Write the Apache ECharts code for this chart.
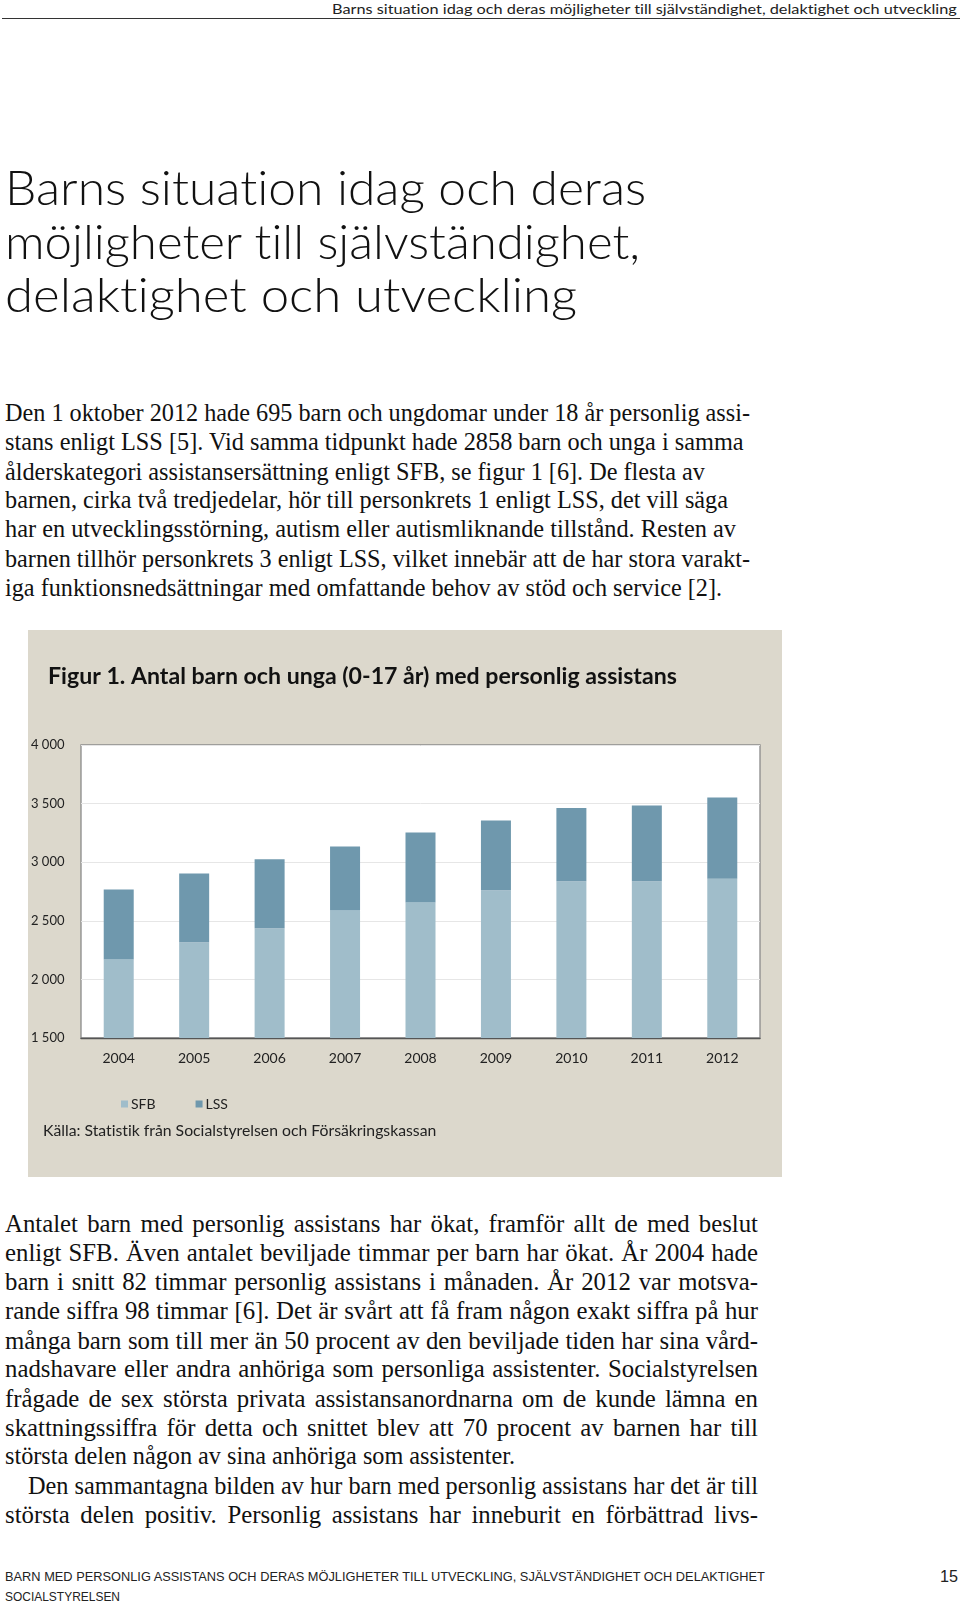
<!DOCTYPE html>
<html><head><meta charset="utf-8">
<script src="https://cdn.jsdelivr.net/npm/echarts@6/dist/echarts.min.js"></script>
<style>
html,body{margin:0;padding:0;background:#fff}
body{width:960px;height:1604px;position:relative;overflow:hidden;font-variant-ligatures:none;font-feature-settings:"liga" 0,"clig" 0}
.t{position:absolute;white-space:nowrap;line-height:1;transform-origin:0 50%;color:#111}
.j{position:absolute;white-space:nowrap;line-height:1;color:#111;text-align:justify;text-align-last:justify}
#hr{position:absolute;left:2px;top:18px;width:958px;height:0;border-top:1.6px solid #333}
</style></head><body>
<div id="hr"></div>
<div id="chart" style="position:absolute;left:28px;top:630px;width:754px;height:547px"></div>
<script>
// ---- data ----
const years = ['2004','2005','2006','2007','2008','2009','2010','2011','2012'];
const sfbValues = [2170, 2318, 2437, 2588, 2656, 2761, 2838, 2838, 2858];
const lssValues = [597, 585, 589, 546, 597, 594, 625, 645, 695];
const seriesNames = ['SFB', 'LSS'];
const yMin = 1500, yMax = 4000, yStep = 500;

const headerText = 'Barns situation idag och deras möjligheter till självständighet, delaktighet och utveckling';
const titleLines = ['Barns situation idag och deras', 'möjligheter till självständighet,', 'delaktighet och utveckling'];
const para1 = [
 'Den 1 oktober 2012 hade 695 barn och ungdomar under 18 år personlig assi-',
 'stans enligt LSS [5]. Vid samma tidpunkt hade 2858 barn och unga i samma',
 'ålderskategori assistansersättning enligt SFB, se figur 1 [6]. De  flesta av',
 'barnen, cirka två tredjedelar, hör till personkrets 1 enligt LSS, det vill säga',
 'har en utvecklingsstörning, autism eller autismliknande tillstånd. Resten av',
 'barnen tillhör personkrets 3 enligt LSS, vilket innebär att de har stora varakt-',
 'iga funktionsnedsättningar med omfattande behov av stöd och service [2].'
];
const para2 = [
 'Antalet barn med personlig assistans har ökat, framför allt de med beslut',
 'enligt SFB. Även antalet beviljade timmar per barn har ökat. År 2004 hade',
 'barn i snitt 82 timmar personlig assistans i månaden. År 2012 var motsva-',
 'rande siffra 98 timmar [6]. Det är svårt att få fram någon exakt siffra på hur',
 'många barn som till mer än 50 procent av den beviljade tiden har sina vård-',
 'nadshavare eller andra anhöriga som personliga assistenter. Socialstyrelsen',
 'frågade de sex största privata assistansanordnarna om de kunde lämna en',
 'skattningssiffra för detta och snittet blev att 70 procent av barnen har till',
 'största delen någon av sina anhöriga som assistenter.',
 'Den sammantagna bilden av hur barn med personlig assistans har det är till',
 'största delen positiv. Personlig assistans har inneburit en förbättrad livs-'
];
const figTitle = 'Figur 1. Antal barn och unga (0-17 år) med personlig assistans';
const sourceText = 'Källa: Statistik från Socialstyrelsen och Försäkringskassan';
const footer1 = 'BARN MED PERSONLIG ASSISTANS OCH DERAS MÖJLIGHETER  TILL UTVECKLING, SJÄLVSTÄNDIGHET OCH DELAKTIGHET';
const footer2 = 'SOCIALSTYRELSEN';
const pageNo = '15';

// ---- text helpers ----
const cv = document.createElement('canvas').getContext('2d');
function measure(text, family, weight, size){ cv.font = weight+' '+size+'px '+family; return cv.measureText(text).width; }
function addLine(text, x, yc, size, family, weight, targetW, color){
  const d = document.createElement('div');
  d.className = 't'; d.textContent = text;
  d.style.left = x+'px'; d.style.top = (yc - size/2)+'px';
  d.style.fontSize = size+'px'; d.style.fontFamily = family; d.style.fontWeight = weight;
  if (color) d.style.color = color;
  if (targetW){ const w = measure(text, family, weight, size); d.style.transform = 'scaleX('+(targetW/w)+')'; }
  document.body.appendChild(d);
}
function addJust(text, x, yc, size, family, w){
  const nat = measure(text, family, 400, size);
  if (nat >= w) { addLine(text, x, yc, size, family, 400, w); return; }
  const d = document.createElement('div');
  d.className = 'j'; d.textContent = text;
  d.style.left = x+'px'; d.style.top = (yc - size/2)+'px'; d.style.width = w+'px';
  d.style.fontSize = size+'px'; d.style.fontFamily = family;
  document.body.appendChild(d);
}
const SANS = 'Lato, "DejaVu Sans", sans-serif';
const SERIF = '"Liberation Serif", "Times New Roman", serif';
const NARROW = '"Liberation Sans Narrow", "Liberation Sans", sans-serif';

addLine(headerText, 332, 9, 14, SANS, 400, 626, '#222');
const tw = [642, 637, 573];
titleLines.forEach((s,i)=> addLine(s, 5, 187 + i*53.5, 48, SANS, 300, tw[i], '#111'));

const size1 = Math.max(20, Math.min(25, 22 * 745 / measure(para1[0], SERIF, 400, 22)));
const p1y = [413, 442, 472, 500, 529, 559, 588];
const p1w = [745, 739, 706, 723, 731, 745, 717];
para1.forEach((s,i)=> addLine(s, 5, p1y[i], size1, SERIF, 400, p1w[i]));

const size2 = Math.max(21, Math.min(25.5, 22 * 748 / measure(para2[3], SERIF, 400, 22)));
const p2y = [1224, 1253, 1282, 1311, 1341, 1369, 1399, 1428, 1456, 1486, 1515];
para2.forEach((s,i)=>{
  if (i === 8) addLine(s, 5, p2y[i], size2, SERIF, 400, 510);
  else if (i === 9) addJust(s, 28, p2y[i], size2, SERIF, 730);
  else addJust(s, 5, p2y[i], size2, SERIF, 753);
});
addLine(footer1, 5, 1576, 13, NARROW, 400, 765, '#222');
addLine(footer2, 5, 1596, 13, NARROW, 400, 115, '#222');
addLine(pageNo, 940, 1576, 17, NARROW, 400, 18, '#222');

// ---- chart ----
const figSize = Math.min(24, 20 * 629 / measure(figTitle, SANS, 700, 20));
const srcSize = Math.min(16, 14 * 394 / measure(sourceText, SANS, 400, 14));
const chart = echarts.init(document.getElementById('chart'));
const fmt = v => { const s = String(v); return s.length > 3 ? s.slice(0, s.length-3) + ' ' + s.slice(-3) : s; };
chart.setOption({
  backgroundColor: '#dcd8cc',
  animation: false,
  title: { text: figTitle, left: 20, top: 49 - figSize/2 - 2, padding: 0,
    textStyle: { fontFamily: SANS, fontWeight: 'bold', fontSize: figSize, color: '#111' } },
  legend: { data: seriesNames, left: 93, top: 467, itemWidth: 7, itemHeight: 7, itemGap: 40, icon: 'rect', padding: 0,
    textStyle: { fontFamily: SANS, fontSize: 14, color: '#222', padding: [0,0,0,-2] } },
  graphic: [{ type: 'text', left: 15, top: 502 - srcSize/2 - 1,
    style: { text: sourceText, font: srcSize + 'px ' + SANS, fill: '#222' } }],
  grid: { left: 53, top: 115, width: 679, height: 293, show: true, backgroundColor: '#ffffff',
    borderColor: '#8a8a8a', borderWidth: 1.3 },
  xAxis: { type: 'category', data: years, boundaryGap: true,
    axisLine: { lineStyle: { color: '#555', width: 1.3 } },
    axisTick: { inside: true, length: 4, lineStyle: { color: '#777' } },
    axisLabel: { margin: 13, fontFamily: SANS, fontSize: 14, color: '#222' } },
  yAxis: { type: 'value', min: yMin, max: yMax, interval: yStep,
    axisLine: { show: false }, axisTick: { show: false },
    splitLine: { lineStyle: { color: '#e6e6e6', width: 1 } },
    axisLabel: { align: 'left', margin: 50, fontFamily: SANS, fontSize: 13, color: '#222', formatter: fmt } },
  series: [
    { name: seriesNames[0], type: 'bar', stack: 'total', data: sfbValues, barWidth: 30, itemStyle: { color: '#a0bdca' } },
    { name: seriesNames[1], type: 'bar', stack: 'total', data: lssValues, barWidth: 30, itemStyle: { color: '#6f98ad' } }
  ]
});
</script>
</body></html>
